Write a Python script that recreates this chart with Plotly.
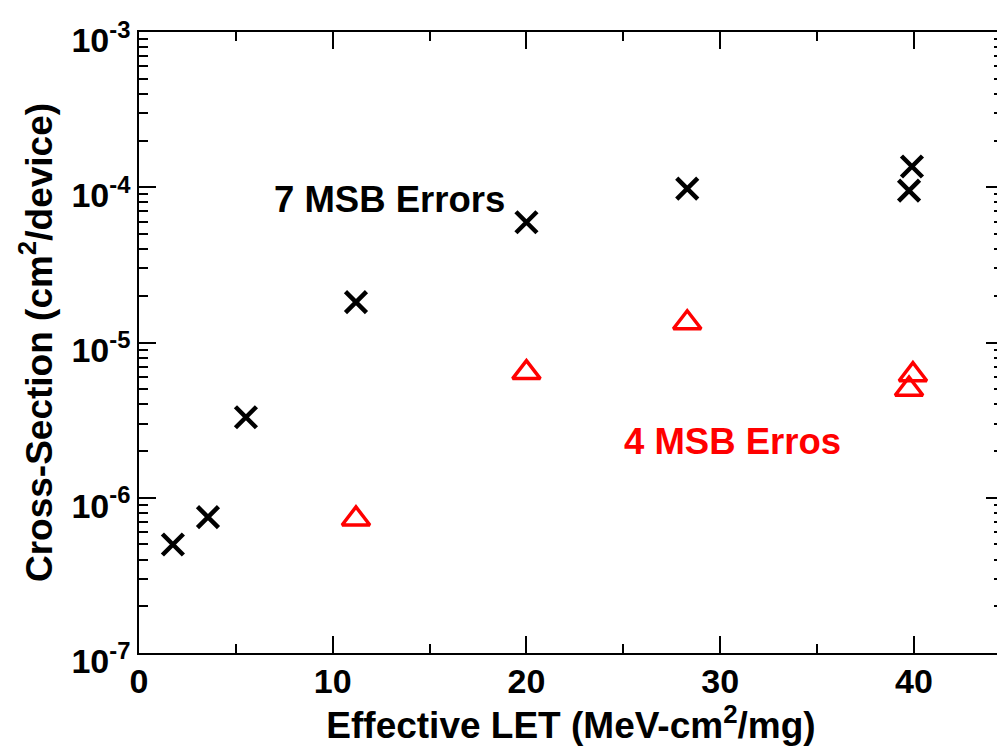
import math
import plotly.graph_objects as go

let_7msb = [1.75, 3.56, 5.52, 11.2, 20.0, 28.3, 39.9, 39.75]
xs_7msb = [5.0e-7, 7.5e-7, 3.3e-6, 1.82e-5, 5.95e-5, 9.8e-5, 1.36e-4, 9.5e-5]

let_4msb = [11.2, 20.0, 28.3, 39.95, 39.75]
xs_4msb = [7.3e-7, 6.4e-6, 1.34e-5, 6.2e-6, 5.0e-6]

y_tickvals = [1e-7, 1e-6, 1e-5, 1e-4, 1e-3]
y_ticktext = ["10<sup>-7</sup>", "10<sup>-6</sup>", "10<sup>-5</sup>", "10<sup>-4</sup>", "10<sup>-3</sup>"]
y_minor = [m * d for d in [1e-7, 1e-6, 1e-5, 1e-4] for m in range(2, 10)]
x_tickvals = [0, 10, 20, 30, 40]
x_minor = [5, 15, 25, 35]

label_7 = "7 MSB Errors"
label_7_pos = (12.95, 8.4e-5)
label_4 = "4 MSB Erros"
label_4_pos = (30.66, 2.29e-6)

font_family = "Liberation Sans, Arial, sans-serif"

fig = go.Figure()
fig.add_trace(go.Scatter(
    x=let_7msb, y=xs_7msb, mode="markers",
    marker=dict(symbol="x-thin", size=21, line=dict(color="black", width=4.5), color="black"),
    showlegend=False))
fig.add_trace(go.Scatter(
    x=let_4msb, y=xs_4msb, mode="markers",
    marker=dict(symbol="triangle-up-open", size=24, line=dict(color="#ff0000", width=3.5), color="#ff0000"),
    showlegend=False))

fig.add_annotation(x=label_7_pos[0], y=math.log10(label_7_pos[1]), xref="x", yref="y",
                   text=f"<b>{label_7}</b>", showarrow=False,
                   font=dict(size=36.5, color="black", family=font_family))
fig.add_annotation(x=label_4_pos[0], y=math.log10(label_4_pos[1]), xref="x", yref="y",
                   text=f"<b>{label_4}</b>", showarrow=False,
                   font=dict(size=36.5, color="#ff0000", family=font_family))

axis_common = dict(showgrid=False, zeroline=False, showline=True, linecolor="black", linewidth=1.5,
                   mirror="allticks", ticks="inside", ticklen=17, tickwidth=1.5, tickcolor="black",
                   automargin=False, ticklabeloverflow="allow",
                   tickfont=dict(size=34, family=font_family, color="black"))

fig.update_xaxes(range=[0, 44.6], tickvals=x_tickvals, ticktext=[f"<b>{v}</b>" for v in x_tickvals],
                 minor=dict(tickvals=x_minor, ticks="inside", ticklen=9, tickwidth=1.5, tickcolor="black"),
                 ticklabelstandoff=-3,
                 title=dict(text="<b>Effective LET (MeV-cm<sup>2</sup>/mg)</b>", standoff=14,
                            font=dict(size=37, family=font_family, color="black")),
                 **axis_common)
fig.update_yaxes(type="log", range=[-7, -3], tickvals=y_tickvals,
                 ticktext=[f"<b>{t}</b>" for t in y_ticktext],
                 minor=dict(tickvals=y_minor, ticks="inside", ticklen=9, tickwidth=1.5, tickcolor="black"),
                 ticklabelshift=8,
                 title=dict(text="<b>Cross-Section (cm<sup>2</sup>/device)</b>", standoff=8,
                            font=dict(size=37, family=font_family, color="black")),
                 **axis_common)

fig.update_layout(width=997, height=745, margin=dict(l=131, r=2, t=24, b=100),
                  plot_bgcolor="white", paper_bgcolor="white")

fig.write_html("out.html")
